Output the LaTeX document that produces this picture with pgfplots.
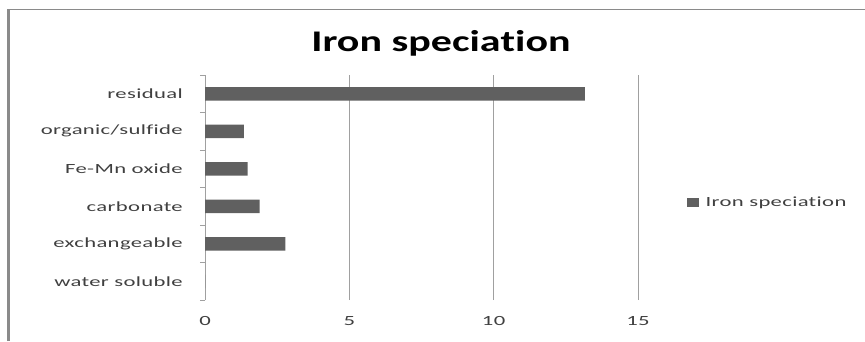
\documentclass[border=0pt]{standalone}
\usepackage{fontspec}
\setmainfont{Carlito}[FakeStretch=1.62, LetterSpace=2.5, Ligatures={NoCommon,NoContextual}]
\newfontfamily\titlefont{Carlito}[FakeStretch=1.4, Ligatures={NoCommon,NoContextual}]
\usepackage{pgfplots}
\pgfplotsset{compat=1.18}

\definecolor{barfill}{RGB}{96,96,96}
\definecolor{gridgray}{RGB}{160,160,160}
\definecolor{framegray}{RGB}{138,138,138}
\definecolor{labelgray}{RGB}{64,64,64}

\begin{document}
\begin{tikzpicture}[x=1pt,y=1pt]
  \path[use as bounding box] (0,0) rectangle (865,341);
  % chart border (left and top edges)
  \draw[framegray, line width=2.5pt] (8.5,0) -- (8.5,332);
  \draw[framegray, line width=1.5pt] (7.25,331.5) -- (865,331.5);

  % title
  \node[anchor=base, inner sep=0pt, font=\titlefont\bfseries\fontsize{30}{30}\selectfont]
    at (441,290) {Iron specia\kern0pt tion};

  \begin{axis}[
    at={(205pt,41pt)}, anchor=south west,
    scale only axis, width=433pt, height=225pt,
    xbar, bar width=13.5pt,
    xmin=0, xmax=15, ymin=-0.5, ymax=5.5,
    axis x line*=bottom,
    axis y line*=left,
    x axis line style={draw=none},
    y axis line style={gridgray, line width=1pt, -},
    xtick={0,5,10,15},
    xmajorgrids, major grid style={gridgray, line width=1pt},
    ytick={0,1,2,3,4,5},
    yticklabels={water soluble\hspace{6pt}, exchangeable, carbonate, Fe-Mn oxide, organic/sulfide, residual},
    minor ytick={-0.5,0.5,1.5,2.5,3.5,4.5,5.5},
    tick align=outside,
    major tick length=0pt, minor tick length=5pt,
    minor tick style={gridgray, line width=1pt},
    /pgf/number format/assume math mode=true,
    tick label style={font=\fontsize{14}{14}\selectfont, text=labelgray},
    yticklabel style={anchor=east, inner sep=0pt, xshift=-22pt},
    xticklabel style={anchor=north, inner sep=0pt, yshift=-16pt},
    legend style={
      at={(rel axis cs:1.113,0.432)}, anchor=west,
      draw=none, fill=none, inner sep=0pt,
      font=\fontsize{14}{14}\selectfont, text=labelgray,
      nodes={inner sep=3.5pt},
    },
    legend image code/.code={\fill[barfill] (0pt,-4.5pt) rectangle (12pt,4.5pt);},
    clip=false,
  ]
    \addplot[fill=barfill, draw=none] coordinates {
      (0,0) (2.78,1) (1.89,2) (1.48,3) (1.35,4) (13.16,5)
    };
    \addlegendentry{\hspace{3pt}Iron specia\kern0pt tion}
  \end{axis}
\end{tikzpicture}
\end{document}
